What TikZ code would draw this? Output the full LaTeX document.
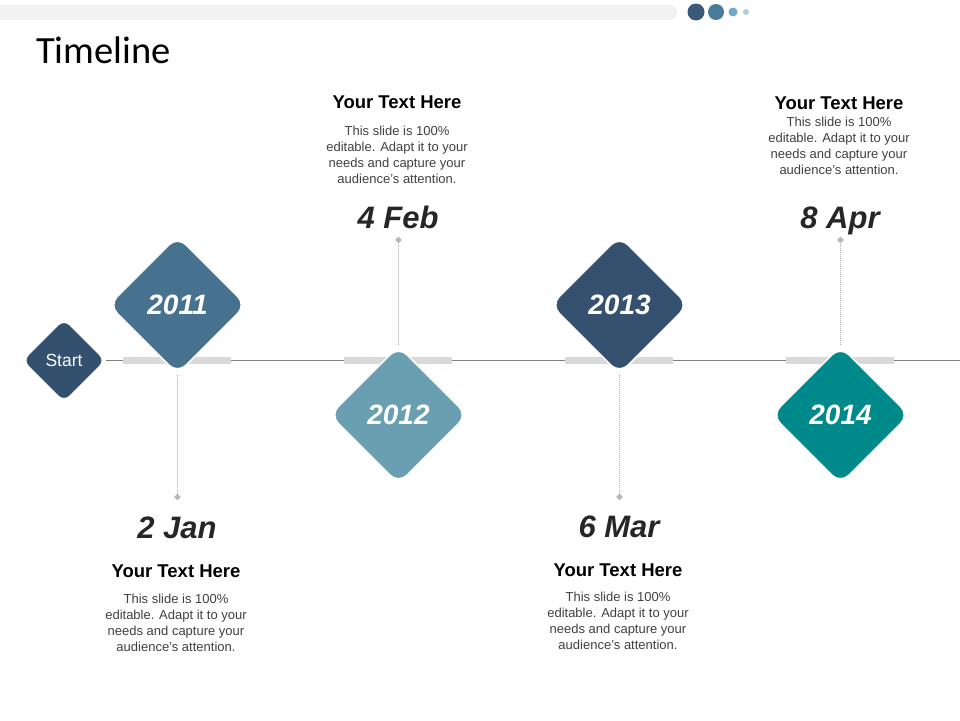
\documentclass[tikz,border=0pt]{standalone}
\usepackage{fontspec}
\setmainfont{Liberation Sans}
\newfontfamily\titlefont{Carlito}
\usetikzlibrary{shapes.geometric}
\definecolor{cstart}{HTML}{34506F}
\definecolor{cyA}{HTML}{46718F}
\definecolor{cyB}{HTML}{6A9FB2}
\definecolor{cyC}{HTML}{36506F}
\definecolor{cyD}{HTML}{00898A}
\definecolor{barcol}{HTML}{D9D9D9}
\definecolor{topbar}{HTML}{F2F2F2}
\definecolor{bodycol}{HTML}{404040}
\definecolor{datecol}{HTML}{262626}
\definecolor{dotA}{HTML}{3A5878}
\definecolor{dotB}{HTML}{4A7A99}
\definecolor{dotC}{HTML}{6FA9C0}
\definecolor{dotD}{HTML}{A8D0DE}
\tikzset{
  yearbox/.style={diamond, aspect=1, minimum width=138pt, minimum height=138pt, inner sep=0pt,
    rounded corners=12pt, draw=white, line width=1.5pt, text=white,
    font=\fontsize{28}{28}\selectfont\bfseries\itshape},
  startbox/.style={diamond, aspect=1, minimum width=83pt, minimum height=83pt, inner sep=0pt,
    rounded corners=8pt, draw=white, line width=1pt, fill=cstart, text=white,
    font=\fontsize{17.5}{17.5}\selectfont},
  marker/.style={diamond, aspect=1, minimum width=7pt, minimum height=7pt, inner sep=0pt, fill=barcol!85!black},
  stem/.style={draw=barcol!80!black, densely dotted, line width=1pt},
  tline/.style={draw=gray, line width=1pt},
  datetxt/.style={anchor=base, inner sep=0pt, text=datecol, font=\fontsize{31}{31}\selectfont\bfseries\itshape},
  headtxt/.style={anchor=base, inner sep=0pt, text=black, font=\fontsize{18.5}{18.5}\selectfont\bfseries},
  bodytxt/.style={anchor=north, inner sep=0pt, align=center, text=bodycol, font=\fontsize{13}{15.8}\selectfont}
}
\begin{document}
\begin{tikzpicture}[x=1pt,y=-1pt]
\useasboundingbox (0,0) rectangle (960,720);
% top decoration
\fill[topbar, rounded corners=7pt] (-20,5) rectangle (677,20);
\fill[dotA] (696,12) circle (8.5);
\fill[dotB] (716,12) circle (8);
\fill[dotC] (733,12) circle (4.5);
\fill[dotD] (746,12) circle (3);
\node[anchor=base west, inner sep=0pt, font=\titlefont\fontsize{38.5}{38.5}\selectfont] (title) at (36,63) {Timeline};
% timeline
\node[startbox] (start) at (64,360.5) {Start};
\coordinate (tend) at (960,360.5);
\draw[tline] (start.east) -- (tend);
\foreach \cx in {177,398,619,840}{
  \fill[barcol] (\cx-54,357) rectangle (\cx+54,364);
}
\node[yearbox, fill=cyA] (y1) at (177.5,305) {2011};
\node[yearbox, fill=cyB] (y2) at (398.5,415) {2012};
\node[yearbox, fill=cyC] (y3) at (619.5,305) {2013};
\node[yearbox, fill=cyD] (y4) at (840.5,415) {2014};
% stems
\node[marker] (m1) at (177.5,497) {};
\node[marker] (m2) at (398.5,240) {};
\node[marker] (m3) at (619.5,497) {};
\node[marker] (m4) at (840.5,240) {};
\draw[stem] (y1.south) -- (m1);
\draw[stem] (y2.north) -- (m2);
\draw[stem] (y3.south) -- (m3);
\draw[stem] (y4.north) -- (m4);
% 2 Jan
\node[datetxt] (d1) at (177,538) {2 Jan};
\node[headtxt] (h1) at (176,577) {Your Text Here};
\node[bodytxt] (b1) at (176,594) {This slide is 100\%\\editable. Adapt it to your\\needs and capture your\\audience's attention.};
% 4 Feb
\node[datetxt] (d2) at (398,228) {4 Feb};
\node[headtxt] (h2) at (397,108) {Your Text Here};
\node[bodytxt] (b2) at (397,126) {This slide is 100\%\\editable. Adapt it to your\\needs and capture your\\audience's attention.};
% 6 Mar
\node[datetxt] (d3) at (619,537) {6 Mar};
\node[headtxt] (h3) at (618,576) {Your Text Here};
\node[bodytxt] (b3) at (618,592) {This slide is 100\%\\editable. Adapt it to your\\needs and capture your\\audience's attention.};
% 8 Apr
\node[datetxt] (d4) at (840,228) {8 Apr};
\node[headtxt] (h4) at (839,109) {Your Text Here};
\node[bodytxt] (b4) at (839,117) {This slide is 100\%\\editable. Adapt it to your\\needs and capture your\\audience's attention.};
\end{tikzpicture}
\end{document}
